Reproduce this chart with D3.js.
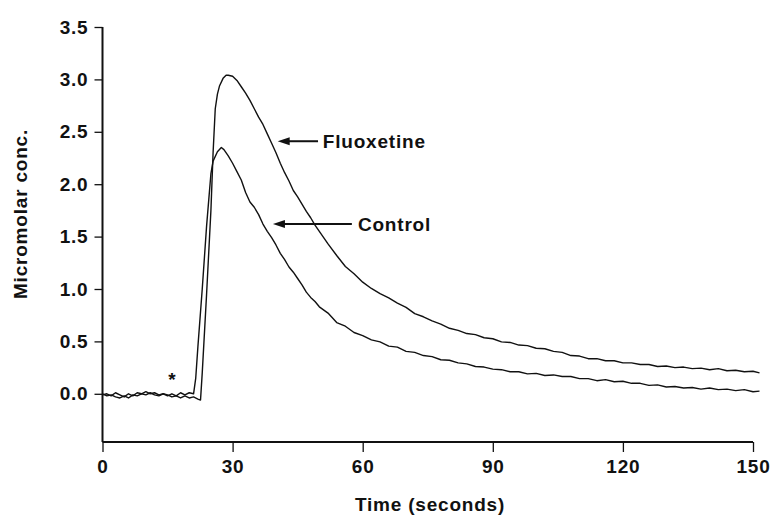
<!DOCTYPE html>
<html>
<head>
<meta charset="utf-8">
<script src="https://cdn.jsdelivr.net/npm/d3@7"></script>
<style>
  html, body { margin: 0; padding: 0; background: #fff; }
  svg { display: block; font-family: 'Liberation Sans', Arial, Helvetica, sans-serif; }
</style>
</head>
<body>
<svg id="chart" width="782" height="519"></svg>
<script>
// seconds / micromolar
const controlTime = [0,1,2,3,4,5,6,7,8,9,10,11,12,13,14,15,16,17,18,19,20,21,21.5,22,23,24,24.5,25,25.5,26.5,27.4,28,29,30,31,32,33,34,35,36,37,38,39,40,41,42,43,44,45,46,47,48,49,50,52,54,56,58,60,62,64,66,68,70,72,74,76,78,80,82,84,86,88,90,92,94,96,98,100,102,104,106,108,110,112,114,116,118,120,122,124,126,128,130,132,134,136,138,140,142,144,146,148,150,151.5];
const controlConc = [-0.01,0.0,-0.02,0.01,-0.01,-0.03,0.0,-0.02,0.01,0.0,0.02,0.0,0.01,-0.01,0.0,-0.02,0.0,-0.02,0.01,-0.01,0.01,0.0,0.15,0.45,1.0,1.6,1.85,2.1,2.22,2.31,2.35,2.33,2.27,2.20,2.12,2.04,1.92,1.83,1.78,1.71,1.62,1.55,1.49,1.42,1.34,1.28,1.21,1.16,1.10,1.04,0.97,0.92,0.88,0.83,0.77,0.68,0.645,0.585,0.555,0.515,0.495,0.455,0.445,0.405,0.395,0.365,0.355,0.325,0.32,0.295,0.285,0.26,0.255,0.235,0.23,0.21,0.21,0.19,0.195,0.175,0.18,0.165,0.165,0.145,0.145,0.125,0.135,0.115,0.12,0.10,0.10,0.08,0.085,0.065,0.07,0.055,0.06,0.045,0.055,0.04,0.045,0.03,0.04,0.02,0.025];

const fluoxTime = [0,1,2,3,4,5,6,7,8,9,10,11,12,13,14,15,16,17,18,19,20,21,22,22.6,23,24,25,25.5,26,26.5,27,27.8,28.5,29,30,31,32,33,34,35,36,37,38,39,40,41,42,43,44,45,46,47,48,49,50,52,54,56,58,60,62,64,66,68,70,72,74,76,78,80,82,84,86,88,90,92,94,96,98,100,102,104,106,108,110,112,114,116,118,120,122,124,126,128,130,132,134,136,138,140,142,144,146,148,150,151.5];
const fluoxConc = [0.0,-0.02,-0.01,-0.03,-0.04,-0.02,-0.04,-0.01,-0.02,0.0,-0.01,0.01,-0.01,-0.02,0.0,-0.01,-0.03,-0.02,-0.04,-0.02,-0.04,-0.03,-0.05,-0.06,0.2,0.95,1.75,2.3,2.72,2.86,2.94,3.01,3.04,3.04,3.03,2.99,2.93,2.87,2.80,2.72,2.64,2.57,2.48,2.39,2.30,2.20,2.11,2.03,1.94,1.88,1.81,1.74,1.68,1.61,1.55,1.43,1.32,1.215,1.145,1.065,1.005,0.955,0.915,0.865,0.825,0.765,0.735,0.695,0.665,0.625,0.605,0.575,0.565,0.535,0.525,0.495,0.49,0.465,0.46,0.435,0.43,0.405,0.395,0.365,0.36,0.335,0.335,0.315,0.315,0.295,0.295,0.28,0.28,0.26,0.265,0.25,0.255,0.24,0.245,0.23,0.24,0.22,0.225,0.21,0.215,0.2];

const xTicks = [0, 30, 60, 90, 120, 150];
const yTicks = [0, 0.5, 1.0, 1.5, 2.0, 2.5, 3.0, 3.5];

// annotations in data units: arrow tip / tail time, level, text start
const labels = [
  { text: 'Fluoxetine', tip: 40.4, tail: 49.7, v: 2.41, tx: 50.8 },
  { text: 'Control', tip: 39.3, tail: 57.5, v: 1.62, tx: 58.9 }
];
const markT = 16.0, markV = 0.07;

const svg = d3.select('#chart');
const x = d3.scaleLinear().domain([0, 150]).range([102.5, 753]);
const y = d3.scaleLinear().domain([-0.46, 3.5]).range([442, 27]);

const font = { size: '19px', weight: 'bold', spacing: '0.8px' };

// y axis
const yAxis = svg.append('g')
  .attr('transform', `translate(${x(0)},0)`)
  .call(d3.axisLeft(y).tickValues(yTicks).tickSize(8).tickPadding(6).tickFormat(d3.format('.1f')));
yAxis.select('.domain').attr('d', `M0,${y(3.5)}V${y(-0.46)}`).attr('stroke-width', 2);

// x axis
const xAxis = svg.append('g')
  .attr('transform', `translate(0,${y(-0.46)})`)
  .call(d3.axisBottom(x).tickValues(xTicks).tickSize(10).tickPadding(8).tickFormat(d3.format('d')));
xAxis.select('.domain').attr('d', `M${x(0)},0H${x(150)}`).attr('stroke-width', 2);

svg.selectAll('.tick line').attr('stroke', '#111').attr('stroke-width', 1.3);
svg.selectAll('.domain').attr('stroke', '#111');
svg.selectAll('.tick text')
  .attr('fill', '#111')
  .style('font-size', font.size)
  .style('font-weight', font.weight)
  .style('letter-spacing', font.spacing)
  .style('font-family', "'Liberation Sans', Arial, sans-serif");

// axis titles
svg.append('text')
  .attr('x', 430).attr('y', 511)
  .attr('text-anchor', 'middle')
  .style('font-size', font.size).style('font-weight', font.weight).style('letter-spacing', font.spacing)
  .attr('fill', '#111')
  .text('Time (seconds)');

svg.append('text')
  .attr('transform', 'translate(27,214) rotate(-90)')
  .attr('text-anchor', 'middle')
  .style('font-size', font.size).style('font-weight', font.weight).style('letter-spacing', font.spacing)
  .attr('fill', '#111')
  .text('Micromolar conc.');

// traces
const line = d3.line().x(d => x(d[0])).y(d => y(d[1]));
const series = [
  d3.zip(controlTime, controlConc),
  d3.zip(fluoxTime, fluoxConc)
];
svg.append('g').selectAll('path')
  .data(series)
  .join('path')
  .attr('d', line)
  .attr('fill', 'none')
  .attr('stroke', '#111')
  .attr('stroke-width', 1.4)
  .attr('stroke-linejoin', 'round');

// arrows + labels
const ann = svg.append('g');
ann.selectAll('line')
  .data(labels)
  .join('line')
  .attr('x1', d => x(d.tail)).attr('y1', d => y(d.v))
  .attr('x2', d => x(d.tip) + 11).attr('y2', d => y(d.v))
  .attr('stroke', '#111').attr('stroke-width', 2);
ann.selectAll('path')
  .data(labels)
  .join('path')
  .attr('d', d => `M${x(d.tip)},${y(d.v)} l12,-4 l0,8 Z`)
  .attr('fill', '#111');
ann.selectAll('text')
  .data(labels)
  .join('text')
  .attr('x', d => x(d.tx)).attr('y', d => y(d.v) + 7)
  .style('font-size', font.size).style('font-weight', font.weight).style('letter-spacing', font.spacing)
  .attr('fill', '#111')
  .text(d => d.text);

svg.append('text')
  .attr('x', x(markT)).attr('y', y(markV))
  .attr('text-anchor', 'middle')
  .style('font-size', '19px').style('font-weight', 'bold')
  .attr('fill', '#111')
  .text('*');
</script>
</body>
</html>
